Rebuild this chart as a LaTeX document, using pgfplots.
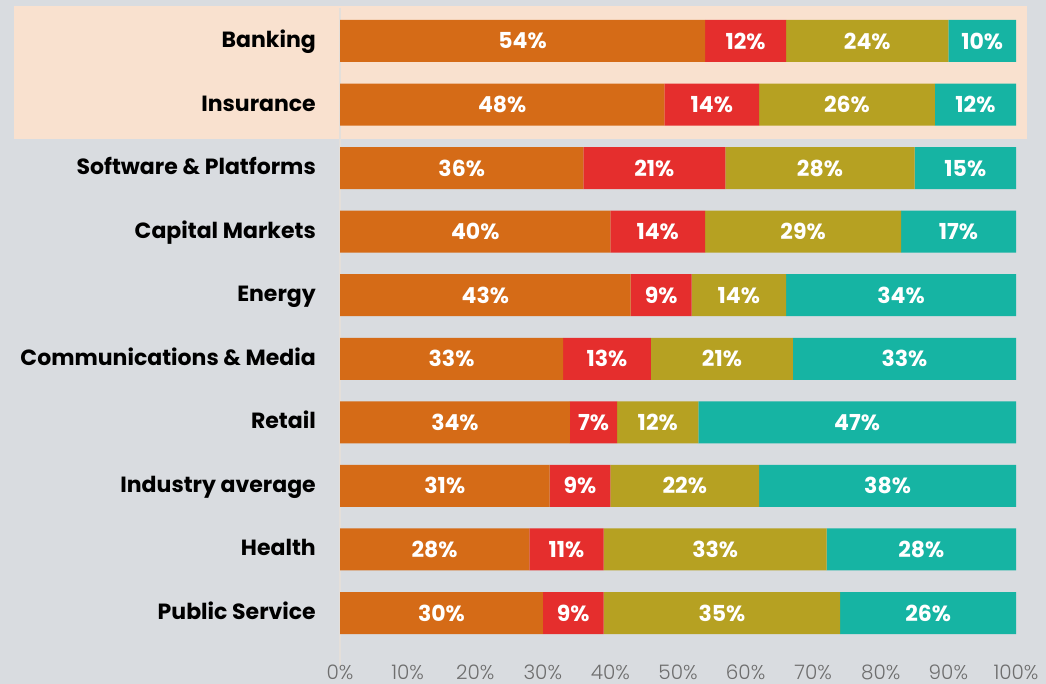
\documentclass[border=0pt]{standalone}
\usepackage{fontspec}
\setmainfont{Poppins}
\newfontfamily\lightfont{Poppins Light}
\usepackage{pgfplots}
\usepackage{pgfplotstable}
\pgfplotsset{compat=1.18}
\definecolor{bg}{HTML}{D9DCE0}
\definecolor{hl}{HTML}{F9E1CF}
\definecolor{c1}{HTML}{D56B17}
\definecolor{c2}{HTML}{E52E2D}
\definecolor{c3}{HTML}{B6A122}
\definecolor{c4}{HTML}{16B4A3}
\definecolor{tickgray}{HTML}{6E6E6E}
\definecolor{axline}{HTML}{E4DFDA}

\pgfplotstableread{
y a b c d
0 54 12 24 10
1 48 14 26 12
2 36 21 28 15
3 40 14 29 17
4 43 9 14 34
5 33 13 21 33
6 34 7 12 47
7 31 9 22 38
8 28 11 33 28
9 30 9 35 26
}\data

\begin{document}
\begin{tikzpicture}[x=1pt,y=1pt]
\fill[bg] (0,0) rectangle (1046,684);
\fill[hl] (14,545) rectangle (1027,678);
\draw[axline, line width=1.2pt] (340,676) -- (340,18);
\begin{axis}[
  at={(340pt,39.2pt)}, anchor=south west,
  scale only axis, width=676pt, height=635.6pt,
  xbar stacked, bar width=42pt,
  xmin=0, xmax=100, ymin=-0.5, ymax=9.5, y dir=reverse,
  axis line style={draw=none}, major tick length=0pt,
  ytick=data,
  yticklabels={Banking, Insurance, Software \& Platforms, Capital Markets, Energy, Communications \& Media, Retail, Industry average, Health, Public Service},
  yticklabel style={font=\bfseries\fontsize{22}{26}\selectfont, text=black, anchor=base east, inner sep=0pt, xshift=-24pt, yshift=-6.5pt},
  xtick={0,10,...,100},
  xticklabel={\pgfmathprintnumber{\tick}\%},
  xticklabel style={font=\lightfont\fontsize{20}{24}\selectfont, text=tickgray, anchor=base, yshift=-34.2pt},
  /pgf/number format/assume math mode=true,
  point meta=explicit symbolic,
  nodes near coords={\pgfplotspointmeta\%},
  every node near coord/.append style={font=\bfseries\fontsize{22}{26}\selectfont, text=white, anchor=center},
  clip=false,
]
\addplot[fill=c1, draw=none] table[x=a, y=y, meta=a] {\data};
\addplot[fill=c2, draw=none] table[x=b, y=y, meta=b] {\data};
\addplot[fill=c3, draw=none] table[x=c, y=y, meta=c] {\data};
\addplot[fill=c4, draw=none] table[x=d, y=y, meta=d] {\data};
\end{axis}
\end{tikzpicture}
\end{document}
